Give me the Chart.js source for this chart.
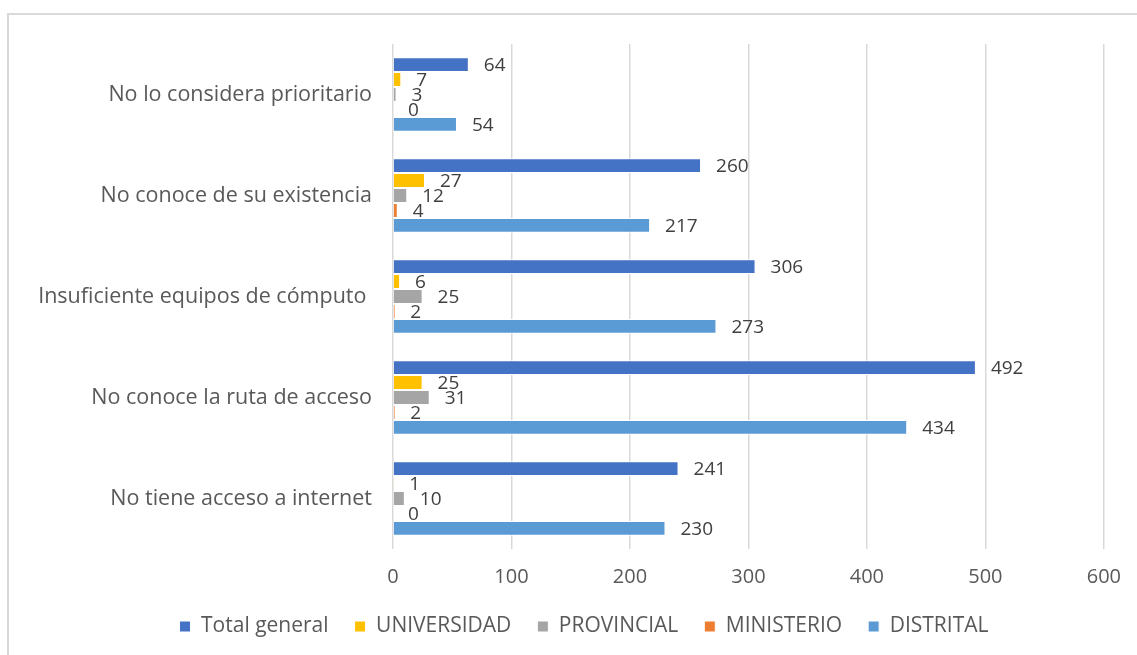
<!DOCTYPE html>
<html>
<head>
<meta charset="utf-8">
<script src="https://cdn.jsdelivr.net/npm/chart.js@4/dist/chart.umd.min.js"></script>
<style>
  html, body { margin: 0; padding: 0; background: #fff; overflow: hidden; }
  #frame { position: absolute; left: 7px; top: 13px; width: 2000px; height: 2000px;
           border-left: 2px solid #d9d9d9; border-top: 2px solid #d9d9d9; }
  #wrap { position: absolute; left: 0; top: 0; width: 1137px; height: 655px; }
</style>
</head>
<body>
<div id="frame"></div>
<div id="wrap"><canvas id="chart" width="1137" height="655"></canvas></div>
<script>
const categories = [
  'No lo considera prioritario',
  'No conoce de su existencia',
  'Insuficiente equipos de cómputo ',
  'No conoce la ruta de acceso',
  'No tiene acceso a internet'
];
const totalGeneral = [64, 260, 306, 492, 241];
const universidad = [7, 27, 6, 25, 1];
const provincial = [3, 12, 25, 31, 10];
const ministerio = [0, 4, 2, 2, 0];
const distrital = [54, 217, 273, 434, 230];
const xTicks = [0, 100, 200, 300, 400, 500, 600];

const FONT = '"Open Sans", "DejaVu Sans", sans-serif';
const TEXT = '#595959';

// draw the value next to the end of each bar
const valueLabels = {
  id: 'valueLabels',
  afterDatasetsDraw(chart) {
    const ctx = chart.ctx;
    ctx.save();
    ctx.font = '19px ' + FONT;
    ctx.fillStyle = '#404040';
    ctx.textAlign = 'left';
    ctx.textBaseline = 'middle';
    chart.data.datasets.forEach((ds, i) => {
      chart.getDatasetMeta(i).data.forEach((bar, j) => {
        ctx.fillText(String(ds.data[j]), bar.x + 15, bar.y + 1);
      });
    });
    ctx.restore();
  }
};

// legend sits a little right of the canvas centre in the original
const shiftLegend = {
  id: 'shiftLegend',
  afterLayout(chart) {
    chart.legend.left += 32;
    chart.legend.right += 32;
  }
};

const series = [
  { label: 'Total general', data: totalGeneral, color: '#4472C4' },
  { label: 'UNIVERSIDAD', data: universidad, color: '#FFC000' },
  { label: 'PROVINCIAL', data: provincial, color: '#A5A5A5' },
  { label: 'MINISTERIO', data: ministerio, color: '#ED7D31' },
  { label: 'DISTRITAL', data: distrital, color: '#5B9BD5' }
];

new Chart(document.getElementById('chart').getContext('2d'), {
  type: 'bar',
  data: {
    labels: categories,
    datasets: series.map(s => ({
      label: s.label,
      data: s.data,
      backgroundColor: s.color,
      borderColor: '#ffffff',
      borderWidth: 1,
      barPercentage: 1,
      categoryPercentage: 0.74
    }))
  },
  options: {
    indexAxis: 'y',
    responsive: false,
    animation: false,
    layout: { padding: { top: 44, right: 33, left: 0, bottom: 8 } },
    scales: {
      x: {
        min: 0,
        max: 600,
        afterBuildTicks: scale => { scale.ticks = xTicks.map(v => ({ value: v })); },
        afterFit: scale => { scale.height = 41; },
        grid: { color: '#d9d9d9', lineWidth: 1.5, drawTicks: false },
        border: { display: false },
        ticks: { color: TEXT, font: { family: FONT, size: 20 }, padding: 16 }
      },
      y: {
        afterFit: scale => { scale.width = 393; },
        grid: { display: false, drawTicks: false },
        border: { display: false },
        ticks: { color: TEXT, font: { family: FONT, size: 21.5 }, padding: 21 }
      }
    },
    plugins: {
      legend: {
        position: 'bottom',
        labels: {
          color: TEXT,
          font: { family: FONT, size: 21 },
          boxWidth: 11,
          boxHeight: 11,
          padding: 26
        }
      },
      tooltip: { enabled: false }
    }
  },
  plugins: [valueLabels, shiftLegend]
});
</script>
</body>
</html>
